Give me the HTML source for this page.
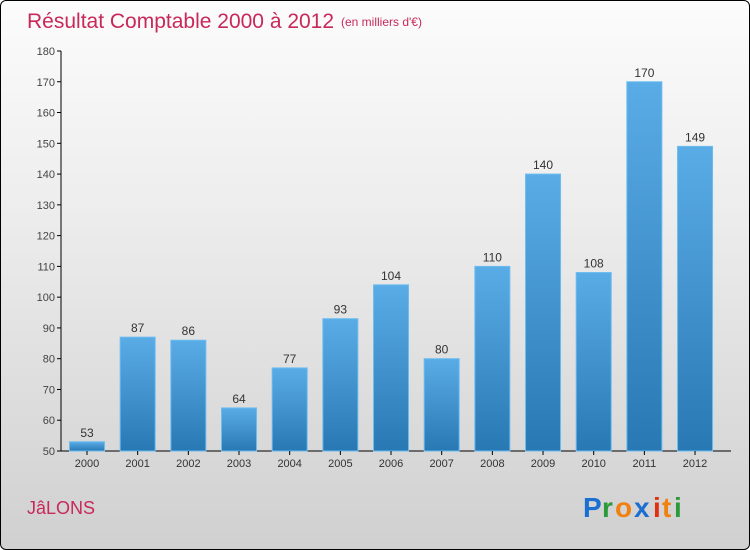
<!DOCTYPE html>
<html><head><meta charset="utf-8"><style>
body{margin:0}
#c{width:748px;height:548px;border:1px solid #000;border-radius:6px;background:linear-gradient(#fcfcfc,#ececec 40%,#d0d0d0);position:relative;overflow:hidden;font-family:"Liberation Sans",sans-serif}
</style></head><body>
<div id="c">
<svg width="748" height="548" style="position:absolute;left:0;top:0">
<defs><linearGradient id="bg" x1="0" y1="0" x2="0" y2="1"><stop offset="0" stop-color="#5aace6"/><stop offset="1" stop-color="#2878b4"/></linearGradient></defs>
<text x="26" y="27" font-size="21" fill="#c8285a">Résultat Comptable 2000 à 2012</text>
<text x="340" y="25" font-size="12" fill="#c8285a">(en milliers d'€)</text>
<g id="plot"></g>
<text x="26" y="513" font-size="18" fill="#c8285a">JâLONS</text>
<g font-size="28" font-weight="bold">
<text x="582" y="516" fill="#1a6fd0">P</text><text x="601" y="516" fill="#2a9a3a">r</text><text x="614" y="516" fill="#f08010">o</text><text x="633" y="516" fill="#1a6fd0">x</text><text x="652" y="516" fill="#e03010">i</text><text x="661" y="516" fill="#f08010">t</text><text x="673" y="516" fill="#2a9a3a">i</text>
</g>
</svg>
</div>
<script>
const years=["2000","2001","2002","2003","2004","2005","2006","2007","2008","2009","2010","2011","2012"];
const values=[53,87,86,64,77,93,104,80,110,140,108,170,149];
const ticks=[50,60,70,80,90,100,110,120,130,140,150,160,170,180];
const NS="http://www.w3.org/2000/svg";
const g=document.getElementById('plot');
const y=v=>450-(v-50)*400/130;
const x=i=>86+i*50.67;
function mk(t,a){const e=document.createElementNS(NS,t);for(const k in a)e.setAttribute(k,a[k]);g.appendChild(e);return e;}
let ax=mk('line',{x1:60,y1:50,x2:60,y2:450,stroke:'#000'});


let bx=mk('line',{x1:60,y1:450,x2:730,y2:450,stroke:'#000'});


ticks.forEach(t=>{
 mk('line',{x1:56,y1:y(t),x2:60,y2:y(t),stroke:'#000'});
 const l=mk('text',{x:54,y:y(t)+4,'font-size':11,fill:'#444','text-anchor':'end'});l.textContent=t;
 
 
});
years.forEach((yr,i)=>{
 const b=mk('rect',{x:x(i)-17.5,y:y(values[i]),width:35,height:450-y(values[i]),fill:'url(#bg)',stroke:'#6cbcf0','stroke-width':1});
 
 
 const v=mk('text',{x:x(i),y:y(values[i])-5,'font-size':12,fill:'#333','text-anchor':'middle'});v.textContent=values[i];
 
 
 mk('line',{x1:x(i),y1:450,x2:x(i),y2:454,stroke:'#000'});
 const l=mk('text',{x:x(i),y:466,'font-size':11,fill:'#333','text-anchor':'middle'});l.textContent=yr;
 
 
});
</script>
</body></html>
